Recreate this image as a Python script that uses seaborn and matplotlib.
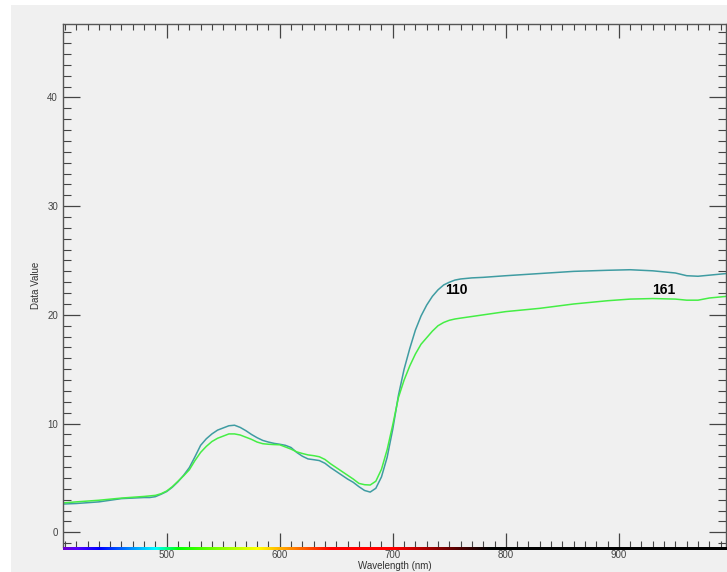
import numpy as np
import pandas as pd
import matplotlib
matplotlib.use("Agg")
import matplotlib.pyplot as plt
from matplotlib.patches import Rectangle
from matplotlib.ticker import MultipleLocator
import seaborn as sns

# Wavelength samples (nm) shared by both spectra
wavelength = [408, 420, 440, 460, 480, 485, 490, 495, 500, 505, 510, 515, 520, 525,
              530, 535, 540, 545, 550, 555, 560, 565, 570, 575, 580, 585, 590, 595,
              600, 605, 610, 615, 620, 625, 630, 635, 640, 645, 650, 655, 660, 665,
              670, 675, 680, 685, 690, 695, 700, 705, 710, 715, 720, 725, 730, 735,
              740, 745, 750, 755, 760, 770, 780, 800, 830, 860, 890, 910, 930, 950,
              960, 970, 980, 995]

# Spectrum 110
spec_110 = [2.6, 2.65, 2.8, 3.1, 3.2, 3.2, 3.28, 3.5, 3.75, 4.15, 4.65, 5.25, 5.95, 6.95,
            8.0, 8.6, 9.05, 9.4, 9.6, 9.8, 9.85, 9.65, 9.35, 9.0, 8.7, 8.45, 8.3, 8.18,
            8.1, 8.0, 7.8, 7.35, 7.0, 6.75, 6.68, 6.6, 6.35, 5.95, 5.6, 5.25, 4.9, 4.6,
            4.2, 3.85, 3.7, 4.05, 5.1, 6.9, 9.5, 12.6, 15.0, 16.9, 18.6, 19.9, 20.9, 21.7,
            22.3, 22.75, 23.0, 23.2, 23.3, 23.4, 23.45, 23.6, 23.8, 24.0, 24.1, 24.15, 24.05, 23.85,
            23.6, 23.55, 23.65, 23.8]

# Spectrum 161
spec_161 = [2.7, 2.8, 2.95, 3.15, 3.3, 3.35, 3.4, 3.55, 3.8, 4.2, 4.7, 5.2, 5.75, 6.6,
            7.35, 7.9, 8.35, 8.65, 8.85, 9.05, 9.05, 8.95, 8.75, 8.55, 8.3, 8.15, 8.1, 8.07,
            8.05, 7.85, 7.65, 7.4, 7.25, 7.12, 7.05, 6.95, 6.7, 6.3, 5.95, 5.6, 5.25, 4.9,
            4.5, 4.38, 4.35, 4.7, 5.8, 7.6, 9.9, 12.4, 14.0, 15.3, 16.4, 17.3, 17.9, 18.5,
            19.0, 19.3, 19.5, 19.62, 19.7, 19.85, 20.0, 20.3, 20.6, 21.0, 21.3, 21.45, 21.5, 21.45,
            21.35, 21.35, 21.55, 21.7]

series_names = ["110", "161"]
label_pos = {"110": (756, 22.3), "161": (940, 22.3)}
palette = {"110": "#3f9ca2", "161": "#45ee45"}

df = pd.concat([
    pd.DataFrame({"Wavelength": wavelength, "Value": spec_110, "Series": "110"}),
    pd.DataFrame({"Wavelength": wavelength, "Value": spec_161, "Series": "161"}),
])

W, H = 727, 572
fig = plt.figure(figsize=(W / 100, H / 100), dpi=100, facecolor="white")
bg = "#f0f0f0"
fig.patches.append(Rectangle((11 / W, 0), 1, 1 - 5 / H, transform=fig.transFigure,
                             facecolor=bg, edgecolor="none", zorder=-10))

ax_left, ax_right = 62.7 / W, 0.999
ax_top, ax_bot = 1 - 24 / H, 1 - 547 / H
ax = fig.add_axes([ax_left, ax_bot, ax_right - ax_left, ax_top - ax_bot])
ax.set_facecolor(bg)

sns.lineplot(data=df, x="Wavelength", y="Value", hue="Series", palette=palette,
             linewidth=1.1, legend=False, ax=ax, estimator=None, sort=False)

for name in series_names:
    x, y = label_pos[name]
    ax.text(x, y, name, ha="center", va="center", fontsize=10, fontweight="bold",
            family="Liberation Sans", color="black")

ax.set_xlim(408, 995)
ax.set_ylim(-1.35, 46.75)

ax.xaxis.set_major_locator(MultipleLocator(100))
ax.xaxis.set_minor_locator(MultipleLocator(10))
ax.yaxis.set_major_locator(MultipleLocator(10))
ax.yaxis.set_minor_locator(MultipleLocator(1))

tick_col = "#444444"
ax.tick_params(axis="x", which="major", direction="in", length=10, width=0.9,
               color=tick_col, top=True, bottom=True, pad=2.5, labelsize=7,
               labelcolor="#444444")
ax.tick_params(axis="x", which="minor", direction="in", length=4.5, width=0.8,
               color=tick_col, top=True, bottom=True)
ax.tick_params(axis="y", which="major", direction="in", length=12, width=0.9,
               color=tick_col, left=True, right=True, pad=3.4, labelsize=7,
               labelcolor="#444444")
ax.tick_params(axis="y", which="minor", direction="in", length=6, width=0.8,
               color=tick_col, left=True, right=True)
for lbl in ax.get_xticklabels() + ax.get_yticklabels():
    lbl.set_family("Liberation Sans")

for side in ["left", "top", "right"]:
    ax.spines[side].set_color("#555555")
    ax.spines[side].set_linewidth(1.0)
ax.spines["bottom"].set_visible(False)

ax.set_xlabel("Wavelength (nm)", fontsize=7, family="Liberation Sans", color="#333333")
ax.set_ylabel("Data Value", fontsize=7, family="Liberation Sans", color="#333333")
ax.xaxis.set_label_coords(0.5, -0.0265)
ax.yaxis.set_label_coords(-0.0327, 0.5)


# Visible-spectrum colour strip along the wavelength axis
def spectrum_rgb(w):
    if w < 380 or w > 785:
        return (0.0, 0.0, 0.0)
    if w < 440:
        r, g, b = -(w - 440) / 60, 0.0, 1.0
    elif w < 490:
        r, g, b = 0.0, (w - 440) / 50, 1.0
    elif w < 510:
        r, g, b = 0.0, 1.0, -(w - 510) / 20
    elif w < 580:
        r, g, b = (w - 510) / 70, 1.0, 0.0
    elif w < 645:
        r, g, b = 1.0, -(w - 645) / 65, 0.0
    else:
        r, g, b = 1.0, 0.0, 0.0
    if w < 420:
        f = 0.3 + 0.7 * (w - 380) / 40
    elif w > 700:
        f = max(0.0, 1.0 - (w - 700) / 85)
    else:
        f = 1.0
    return (r * f, g * f, b * f)


strip_w = np.linspace(408, 995, 800)
strip = np.array([[spectrum_rgb(w) for w in strip_w]])
cax = fig.add_axes([ax_left, 1 - 550.5 / H, ax_right - ax_left, 4 / H])
cax.imshow(strip, aspect="auto", extent=[408, 995, 0, 1], interpolation="bilinear")
cax.set_axis_off()

fig.savefig("out.png", dpi=100, facecolor=fig.get_facecolor())
